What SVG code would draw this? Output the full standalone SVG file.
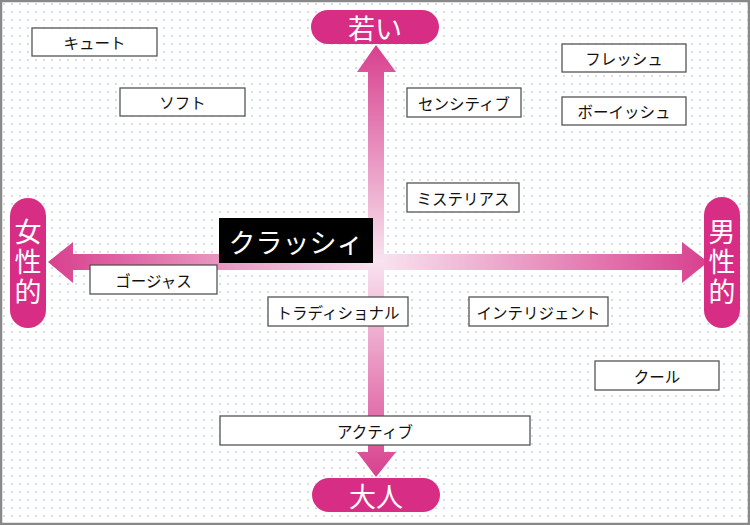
<svg xmlns="http://www.w3.org/2000/svg" width="750" height="525" viewBox="0 0 750 525">
<style>
.lbl rect{fill:#fff;stroke:#555;stroke-width:1.3}
.lbl text{font-family:"Noto Sans CJK JP","Noto Sans",sans-serif;font-size:15.5px;fill:#111;text-anchor:middle;dominant-baseline:central}
.pill rect{fill:#d82d84}
.pill text{font-family:"Noto Sans CJK JP",sans-serif;font-size:27px;fill:#fff;text-anchor:middle;dominant-baseline:central}
.pill text.v{writing-mode:vertical-rl;letter-spacing:3px}
</style>
<defs>
<pattern id="dots" width="8" height="8" patternUnits="userSpaceOnUse">
<circle cx="4" cy="4" r="0.9" fill="#bccfe6"/>
</pattern>
<linearGradient id="gv" x1="0" y1="45" x2="0" y2="477" gradientUnits="userSpaceOnUse">
<stop offset="0" stop-color="#d8408e"/>
<stop offset="0.5" stop-color="#f9e4f0"/>
<stop offset="1" stop-color="#d8408e"/>
</linearGradient>
<linearGradient id="gh" x1="48" y1="0" x2="708" y2="0" gradientUnits="userSpaceOnUse">
<stop offset="0" stop-color="#d8408e"/>
<stop offset="0.5" stop-color="#f9e4f0"/>
<stop offset="1" stop-color="#d8408e"/>
</linearGradient>
</defs>
<rect x="0" y="0" width="750" height="525" fill="#fff"/>
<rect x="0" y="0" width="750" height="525" fill="url(#dots)"/>
<rect x="1" y="1" width="748" height="523" fill="none" stroke="#888" stroke-width="2.5"/>
<g id="connectors">
<polygon fill="url(#gh)" points="48,262 73,242 73,254 682,254 682,242 708,262 682,283 682,270 73,270 73,283"/>
<polygon fill="url(#gv)" points="376,45 396,72 384,72 384,452 396,452 376,477 357,452 368,452 368,72 357,72"/>
</g>
<g id="top" class="pill"><rect x="311" y="10" width="128" height="34" rx="17"/><text x="375" y="27">若い</text></g>
<g id="bottom" class="pill"><rect x="312" y="478" width="128" height="34" rx="17"/><text x="376" y="495">大人</text></g>
<g id="left" class="pill"><rect x="10" y="198" width="36" height="130" rx="18"/><text class="v" x="28" y="263">女性的</text></g>
<g id="right" class="pill"><rect x="704" y="197" width="36" height="131" rx="18"/><text class="v" x="722" y="263">男性的</text></g>
<g id="cute" class="lbl"><rect x="32" y="28" width="125" height="28"/><text x="94.5" y="42">キュート</text></g>
<g id="soft" class="lbl"><rect x="120" y="88" width="125" height="28"/><text x="182.5" y="102">ソフト</text></g>
<g id="sensitive" class="lbl"><rect x="407" y="88" width="114" height="29"/><text x="464" y="102.5">センシティブ</text></g>
<g id="fresh" class="lbl"><rect x="562" y="44" width="124" height="28"/><text x="624" y="58">フレッシュ</text></g>
<g id="boyish" class="lbl"><rect x="562" y="97" width="124" height="28"/><text x="624" y="111">ボーイッシュ</text></g>
<g id="mysterious" class="lbl"><rect x="407" y="183" width="112" height="29"/><text x="463" y="197.5">ミステリアス</text></g>
<g id="classy"><rect x="219" y="218" width="154" height="45" fill="#000"/><text x="296" y="241" font-family="Noto Sans CJK JP,sans-serif" font-size="27" fill="#fff" text-anchor="middle" dominant-baseline="central">クラッシィ</text></g>
<g id="gorgeous" class="lbl"><rect x="90" y="265" width="127" height="29"/><text x="153.5" y="279.5">ゴージャス</text></g>
<g id="traditional" class="lbl"><rect x="268" y="297" width="140" height="29"/><text x="338" y="311.5">トラディショナル</text></g>
<g id="intelligent" class="lbl"><rect x="469" y="297" width="139" height="29"/><text x="538.5" y="311.5">インテリジェント</text></g>
<g id="cool" class="lbl"><rect x="595" y="361" width="124" height="29"/><text x="657" y="375.5">クール</text></g>
<g id="active" class="lbl"><rect x="220" y="416" width="310" height="29"/><text x="375" y="430.5">アクティブ</text></g>
</svg>
